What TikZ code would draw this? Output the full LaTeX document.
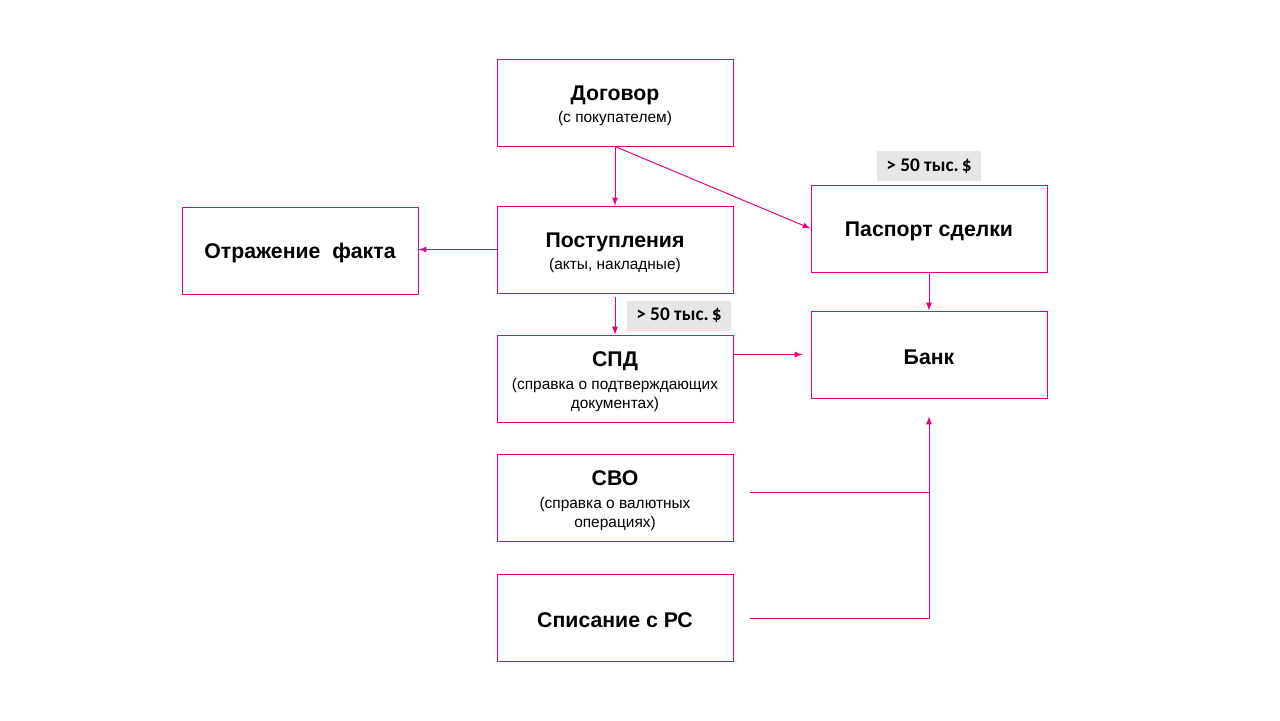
\documentclass[tikz,border=0pt]{standalone}
\usepackage{fontspec}
\setmainfont{Liberation Sans}
\newfontfamily\calibri{Carlito}
\definecolor{rozovy}{RGB}{230,0,126}
\definecolor{seryi}{RGB}{230,230,230}
\newcommand\zagl[1]{{\fontsize{12.1}{13}\selectfont\bfseries\rule{0pt}{11.8pt}#1}}
\newcommand\podpis[1]{{\fontsize{8.8}{10.6}\selectfont #1}}
\begin{document}
\begin{tikzpicture}[x=0.02cm,y=-0.02cm,
  blok/.style={draw=rozovy, line width=0.55pt, minimum width=4.72cm, minimum height=1.74cm, align=center, inner sep=0pt, font=\fontsize{8.8}{10.6}\selectfont},
  metka/.style={fill=seryi, minimum width=2.08cm, minimum height=0.6cm, inner sep=0pt, font=\calibri\bfseries\fontsize{11}{12}\selectfont},
  strelka/.style={draw=rozovy, line width=0.55pt, ->, >=latex}]
\useasboundingbox (0,0) rectangle (1280,720);

\node[blok] (dog) at (615,102.5) {\zagl{Договор}\\[2pt]\podpis{(с покупателем)}};
\node[blok] (post) at (615,249.5) {\zagl{Поступления}\\[2pt]\podpis{(акты, накладные)}};
\node[blok] (otr) at (300,250.5) {\zagl{Отражение\ \ факта}};
\node[blok] (spd) at (615,378.5) {\zagl{СПД}\\[3pt]\podpis{(справка о подтверждающих}\\\podpis{документах)}};
\node[blok] (svo) at (615,497.5) {\zagl{СВО}\\[3pt]\podpis{(справка о валютных}\\\podpis{операциях)}};
\node[blok] (spis) at (615,617.5) {\zagl{Списание с РС}};
\node[blok] (pasp) at (929,228.5) {\zagl{Паспорт сделки}};
\node[blok] (bank) at (929,354.5) {\zagl{Банк}};

\node[metka] (lim1) at (929,166) {> 50 тыс.\,\$};
\node[metka] (lim2) at (679,315.5) {> 50 тыс.\,\$};

\coordinate (svo_k) at (750,492);
\coordinate (spis_k) at (750,618);

\draw[strelka] (dog.south) -- (dog.south |- post.north);
\draw[strelka] (dog.south) -- (pasp.west);
\draw[strelka] (post.west) -- (post.west -| otr.east);
\draw[strelka] ([yshift=-0.08cm]post.south) -- (post.south |- spd.north);
\draw[strelka] (spd.east |- bank.west) -- ([xshift=-0.16cm]bank.west);
\draw[strelka] (pasp.south) -- (bank.north);
\draw[rozovy, line width=0.55pt] (svo_k) -- (svo_k -| bank.south);
\draw[strelka] (spis_k) -| ([yshift=-0.36cm]bank.south);

\end{tikzpicture}
\end{document}
